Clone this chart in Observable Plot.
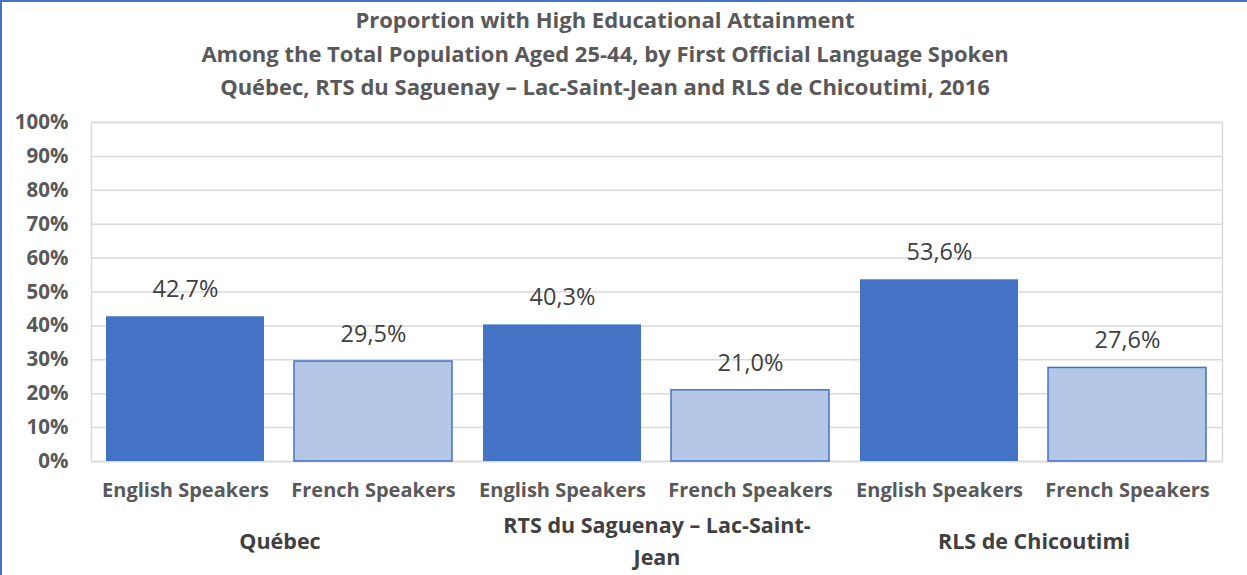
<!DOCTYPE html>
<html><head><meta charset="utf-8">
<script src="https://cdn.jsdelivr.net/npm/d3@7"></script>
<script src="https://cdn.jsdelivr.net/npm/@observablehq/plot@0.6"></script>
<style>
body{margin:0;background:#fff;}
#wrap{width:1247px;height:575px;position:relative;overflow:hidden;font-family:"Open Sans",sans-serif;background:#fff;}
#wrap::after{content:"";position:absolute;left:0;top:0;right:0;bottom:0;border-left:2px solid #4472C4;border-top:2px solid #4472C4;pointer-events:none;}
#title{height:105px;box-sizing:border-box;padding-top:3px;width:1210px;text-align:center;color:#595959;font-weight:bold;font-size:22px;line-height:33.5px;}
#chart svg{display:block;}
</style></head><body>
<div id="wrap"><div id="title"></div><div id="chart"></div></div>
<script>
const titleLines = [
  "Proportion with High Educational Attainment",
  "Among the Total Population Aged 25-44, by First Official Language Spoken",
  "Québec, RTS du Saguenay – Lac-Saint-Jean and RLS de Chicoutimi, 2016"
];
const groups = ["Québec", "RTS du Saguenay – Lac-Saint-Jean", "RLS de Chicoutimi"];
const groupLabels = ["Québec", "RTS du Saguenay – Lac-Saint-\nJean", "RLS de Chicoutimi"];
const languages = ["English Speakers", "French Speakers"];
const englishValues = [42.7, 40.3, 53.6];
const frenchValues = [29.5, 21.0, 27.6];
const yTicks = [0, 10, 20, 30, 40, 50, 60, 70, 80, 90, 100];

document.getElementById("title").innerHTML = titleLines.map(t => `<div>${t}</div>`).join("");

const data = [];
groups.forEach((g, i) => {
  data.push({group: g, lang: languages[0], value: englishValues[i]});
  data.push({group: g, lang: languages[1], value: frenchValues[i]});
});
const fmt = v => v.toFixed(1).replace(".", ",") + "%";

const chart = Plot.plot({
  width: 1247,
  height: 470,
  marginTop: 17,
  marginBottom: 114,
  marginLeft: 90,
  marginRight: 25,
  style: {fontFamily: "'Open Sans', sans-serif", fontSize: "20px", background: "transparent"},
  fx: {domain: groups, padding: 0, axis: null},
  x: {domain: languages, paddingInner: 0.157, paddingOuter: 0.0785, axis: null},
  y: {domain: [0, 100], axis: null},
  marks: [
    Plot.gridY(yTicks, {stroke: "#d9d9d9", strokeOpacity: 1, strokeWidth: 1.5}),
    Plot.frame({facet: "super", stroke: "#d9d9d9", strokeWidth: 1.5}),
    Plot.barY(data.filter(d => d.lang === languages[0]), {fx: "group", x: "lang", y: "value", fill: "#4472C4"}),
    Plot.barY(data.filter(d => d.lang === languages[1]), {fx: "group", x: "lang", y: "value", fill: "#B4C7E7", stroke: "#4472C4", strokeWidth: 1.5}),
    Plot.text(data, {fx: "group", x: "lang", y: "value", text: d => fmt(d.value), dy: -27, fontSize: 23.5, fill: "#404040"}),
    Plot.axisY(yTicks, {label: null, tickFormat: d => d + "%", tickSize: 0, tickPadding: 23, color: "#595959", fontWeight: "bold", fontSize: 20.5}),
    Plot.axisX({label: null, tickSize: 0, tickPadding: 21, color: "#595959", fontWeight: "bold", fontSize: 20}),
    Plot.text(groups, {fx: d => d, text: (d, i) => groupLabels[i], frameAnchor: "bottom", lineAnchor: "middle", dy: 77, lineHeight: 1.48, fontSize: 21.5, fontWeight: "bold", fill: "#404040"})
  ]
});
document.getElementById("chart").appendChild(chart);
</script>
</body></html>
